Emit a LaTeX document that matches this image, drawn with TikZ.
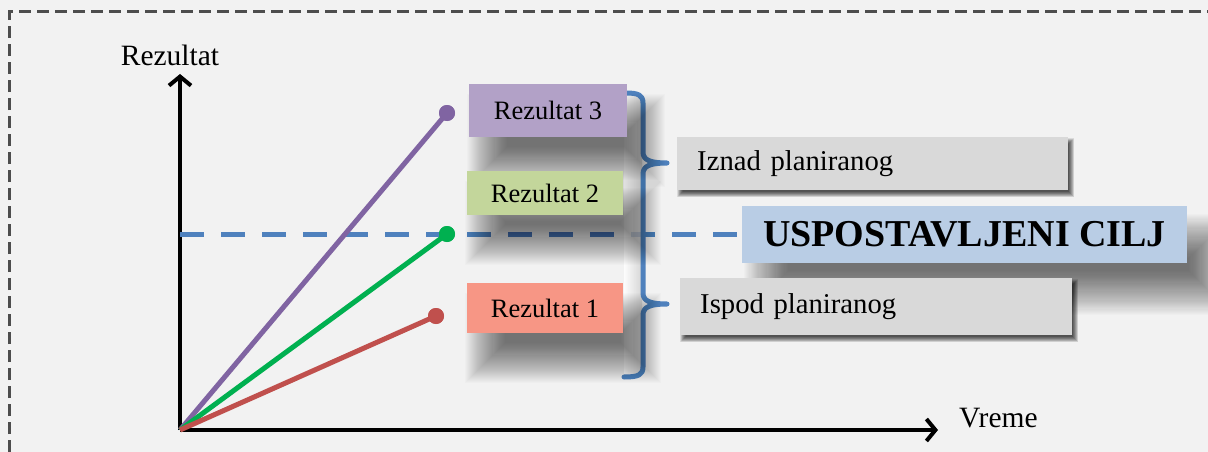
\documentclass[tikz,border=0pt]{standalone}
\usepackage{fontspec}
\setmainfont{Liberation Serif}
\usetikzlibrary{arrows.meta}
\definecolor{bg}{HTML}{F2F2F2}
\definecolor{bordercol}{HTML}{4D4D4D}
\definecolor{pur}{HTML}{8064A2}
\definecolor{grn}{HTML}{00B050}
\definecolor{rd}{HTML}{C0504D}
\definecolor{blu}{HTML}{4F81BD}
\definecolor{boxpur}{HTML}{B2A1C7}
\definecolor{boxgrn}{HTML}{C3D69B}
\definecolor{boxred}{HTML}{F79685}
\definecolor{boxgray}{HTML}{D9D9D9}
\definecolor{boxblue}{HTML}{B9CDE5}
\definecolor{stripgray}{HTML}{CFCFCF}
\pgfdeclarelayer{back}
\pgfdeclarelayer{shade}
\pgfsetlayers{back,shade,main}
% soft shadow: node, dx, dy, spread, opacity per step (40 steps)
\newcommand\mysoftshadow[5]{%
  \begin{pgfonlayer}{shade}
  \foreach \k in {0,...,39}{%
    \fill[black,opacity=#5]
      ([shift={(#2-#4+\k*#4/19.5,#3-#4+\k*#4/19.5)}]#1.north west) rectangle
      ([shift={(#2+#4-\k*#4/19.5,#3+#4-\k*#4/19.5)}]#1.south east);}
  \end{pgfonlayer}}
\tikzset{
  axis/.style={line width=4pt,-{Straight Barb[length=9pt,width=22pt,line width=4pt]}},
  pline/.style={line width=5pt},
  dotnode/.style={circle,inner sep=0pt,minimum size=16pt},
  resbox/.style={rectangle,inner sep=0pt,font=\fontsize{26.5}{30}\selectfont},
  graybox/.style={rectangle,fill=boxgray,inner xsep=20pt,inner ysep=0pt,align=left,
    font=\fontsize{28.7}{32}\selectfont,anchor=north west},
  goalbox/.style={rectangle,fill=boxblue,inner sep=0pt,font=\fontsize{38}{42}\selectfont\bfseries},
  lbl/.style={font=\fontsize{29.5}{33}\selectfont,inner sep=0pt},
  bracestyle/.style={draw=blu,line width=5pt,line cap=round,line join=round},
}
\begin{document}
\begin{tikzpicture}[x=1pt,y=-1pt]
\useasboundingbox (0,0) rectangle (1208,452);
\begin{pgfonlayer}{back}
\fill[bg] (0,0) rectangle (1208,452);
\draw[bordercol,line width=3pt,dash pattern=on 12pt off 6pt] (9,470) -- (9,12) -- (1220,12);

% axes
\coordinate (O) at (180,430);
\coordinate (ytop) at (180,74);
\coordinate (xend) at (938,430);
\draw[axis] (O) -- (ytop);
\draw[axis] (O) -- (xend);
\node[lbl] (ylab) at (170,55) {Rezultat};
\node[lbl,anchor=west] (xlab) at (959,418) {Vreme};

% goal line
\coordinate (gl) at (180,234);
\coordinate (gr) at (742,234);
\draw[blu,line width=5pt,dash pattern=on 24pt off 17pt] (gl) -- (gr);

% result lines
\node[dotnode,fill=pur] (p3) at (447,113) {};
\node[dotnode,fill=grn] (p2) at (447,234) {};
\node[dotnode,fill=rd] (p1) at (436,316) {};
\draw[pline,pur] (O) -- (p3.center);
\draw[pline,grn] (O) -- (p2.center);
\draw[pline,rd] (O) -- (p1.center);
\node[dotnode,fill=pur] at (p3) {};
\node[dotnode,fill=grn] at (p2) {};
\node[dotnode,fill=rd] at (p1) {};

% brace interior fill
\shade[left color=white,right color=stripgray,opacity=0.8] (624,96) rectangle (642,375);

% brace
\coordinate (bt) at (626,93);
\coordinate (tip1) at (667,163);
\coordinate (tip2) at (667,304);
\coordinate (bb) at (624,377);
\draw[bracestyle] (bt) .. controls (638,93) and (643,95) .. (643,103)
  -- (643,152) .. controls (643,160) and (650,163) .. (tip1)
  .. controls (650,163) and (643,166) .. (643,174)
  -- (643,293) .. controls (643,301) and (650,304) .. (tip2)
  .. controls (650,304) and (643,307) .. (643,315)
  -- (643,367) .. controls (643,375) and (638,377) .. (bb);
\end{pgfonlayer}

% result boxes
\node[resbox,fill=boxpur,minimum width=158pt,minimum height=53pt] (r3) at (548,110.5) {Rezultat 3};
\node[resbox,fill=boxgrn,minimum width=156pt,minimum height=44pt] (r2) at (545,193) {Rezultat 2};
\node[resbox,fill=boxred,minimum width=156pt,minimum height=50pt] (r1) at (545,308) {Rezultat 1};
\mysoftshadow{r3}{18}{30}{20}{0.015}
\mysoftshadow{r2}{18}{30}{20}{0.015}
\mysoftshadow{r1}{18}{30}{20}{0.015}

% gray boxes
\node[graybox,text width=351pt,minimum height=53pt] (above) at (677,137) {Iznad planiranog};
\node[graybox,text width=352pt,minimum height=57pt] (below) at (680,278) {Ispod planiranog};
\mysoftshadow{above}{3}{4}{3}{0.025}
\mysoftshadow{below}{3}{4}{3}{0.025}

% goal box
\node[goalbox,minimum width=445pt,minimum height=57pt] (goal) at (964.5,234.5) {USPOSTAVLJENI CILJ};
\mysoftshadow{goal}{24}{30}{22}{0.015}
\end{tikzpicture}
\end{document}
